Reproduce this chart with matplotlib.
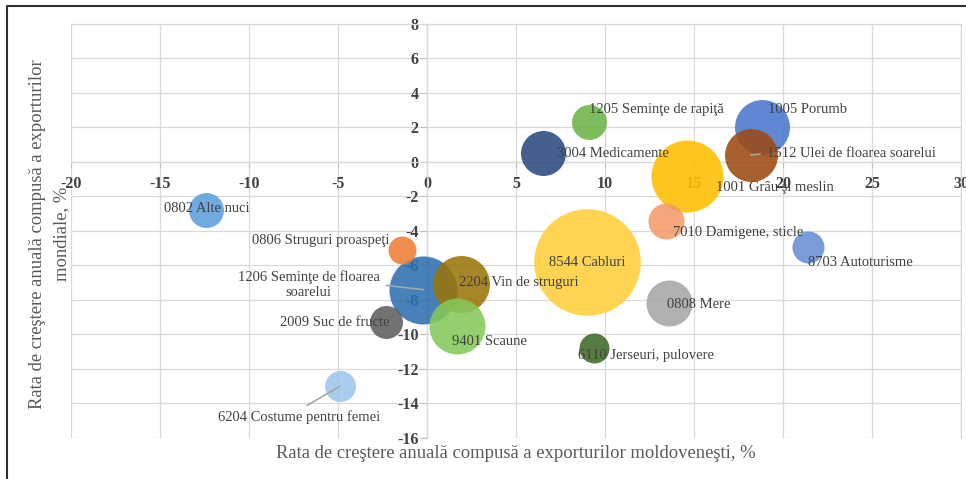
import matplotlib.pyplot as plt
from matplotlib.lines import Line2D

plt.rcParams['font.family'] = ['Liberation Serif', 'DejaVu Serif']
plt.rcParams['axes.unicode_minus'] = False

# date: cod produs, denumire, rata exporturi MD (x), rata exporturi mondiale (y), volum (aria bulei)
codes = ["1206", "2204", "9401", "2009", "0806", "0802", "6204",
         "1205", "3004", "1005", "1512", "1001", "7010", "8703",
         "8544", "0808", "6110"]
names = ["Seminţe de floarea\nsoarelui", "Vin de struguri", "Scaune", "Suc de fructe",
         "Struguri proaspeţi", "Alte nuci", "Costume pentru femei",
         "Seminţe de rapiţă", "Medicamente", "Porumb", "Ulei de floarea soarelui",
         "Grâu şi meslin", "Damigene, sticle", "Autoturisme",
         "Cabluri", "Mere", "Jerseuri, pulovere"]
x_md = [-0.2, 1.9, 1.7, -2.3, -1.4, -12.4, -4.9,
        9.1, 6.5, 18.8, 18.2, 14.6, 13.4, 21.4,
        9.0, 13.6, 9.4]
y_world = [-7.4, -7.1, -9.5, -9.3, -5.1, -2.8, -13.0,
           2.3, 0.5, 2.0, 0.4, -0.8, -3.4, -4.9,
           -5.8, -8.2, -10.8]
volume = [1156, 812, 784, 272, 196, 306, 240,
          306, 506, 756, 702, 1296, 324, 256,
          2841, 529, 225]

colors = ["#2e6fb0", "#9a7508", "#84c95a", "#5f5f5f", "#f07f36", "#5b9fdc", "#9cc6ee",
          "#6cb446", "#2a4a80", "#4a78cc", "#9c4a14", "#ffbf00", "#f29b68", "#6890d4",
          "#ffcf3a", "#a6a6a6", "#3f6a26"]

# pozitia etichetelor fata de centrul bulei (pixeli), aliniere, linie de legatura
lab_dx = [-44, -2, -5, 3, -13, 0, -41,
          0, 14, 6, 16, 29, 7, 0,
          0, -2, -16]
lab_dy = [5, 1.5, -16, 0, 9, 1.5, -31,
          13, 0, 18, 2, -12, -12, -16,
          0, -1, -7]
lab_ha = ["right", "left", "left", "right", "right", "center", "center",
          "left", "left", "left", "left", "left", "left", "left",
          "center", "left", "left"]
leader = [True, False, False, False, False, False, True,
          False, False, False, True, False, False, False,
          False, False, False]

fig = plt.figure(figsize=(9.66, 4.79), dpi=100)
ax = fig.add_axes([0.0735, 0.0856, 0.9213, 0.8643])

px_per_pt = 100 / 72
for i in range(len(codes)):
    ax.scatter(x_md[i], y_world[i], s=volume[i] * (2 / px_per_pt) ** 2,
               color=colors[i], alpha=0.88, linewidths=0, zorder=3)

for i in range(len(codes)):
    kw = {}
    if leader[i]:
        if lab_ha[i] == "right":
            rp = (1, 0.5)
        elif lab_ha[i] == "left":
            rp = (0, 0.5)
        else:
            rp = (0.5, 1)
        kw['arrowprops'] = dict(arrowstyle='-', color='#a6a6a6', lw=1.2,
                                shrinkA=3, shrinkB=0, relpos=rp)
    ax.annotate(f"{codes[i]} {names[i]}", xy=(x_md[i], y_world[i]),
                xytext=(lab_dx[i], lab_dy[i]), textcoords='offset pixels',
                ha=lab_ha[i], va='center', multialignment='center',
                fontsize=10.5, color='#404040', zorder=5, **kw)

ax.set_xlim(-20, 30)
ax.set_ylim(-16, 8)
ax.set_xticks(range(-20, 31, 5))
ax.set_yticks(range(-16, 9, 2))
ax.grid(True, color='#d9d9d9', lw=0.9, zorder=0)
ax.set_axisbelow(True)

ax.spines['left'].set_position(('data', 0))
ax.spines['bottom'].set_position(('data', 0))
for sp in ax.spines.values():
    sp.set_color('#d9d9d9')
    sp.set_linewidth(0.9)

ax.tick_params(axis='both', colors='#bfbfbf', labelcolor='#404040', labelsize=11.5)
ax.tick_params(axis='y', length=5, pad=1)
ax.tick_params(axis='x', length=4, pad=6)
for lab in ax.get_xticklabels() + ax.get_yticklabels():
    lab.set_fontweight('bold')

fig.text(0.5342, 0.054, "Rata de creştere anuală compusă a exporturilor moldoveneşti, %",
         ha='center', va='center', fontsize=13.4, color='#595959')
fig.text(0.0512, 0.512, "Rata de creştere anuală compusă a exporturilor\nmondiale, %",
         ha='center', va='center', rotation=90, multialignment='center',
         fontsize=13.4, color='#595959', linespacing=1.5)

# chenarul figurii
fig.add_artist(Line2D([0.0077, 0.0077, 1.0], [0.0, 0.987, 0.987],
                      transform=fig.transFigure, color='#303030', lw=1.5))

fig.savefig("out.png", dpi=100)
